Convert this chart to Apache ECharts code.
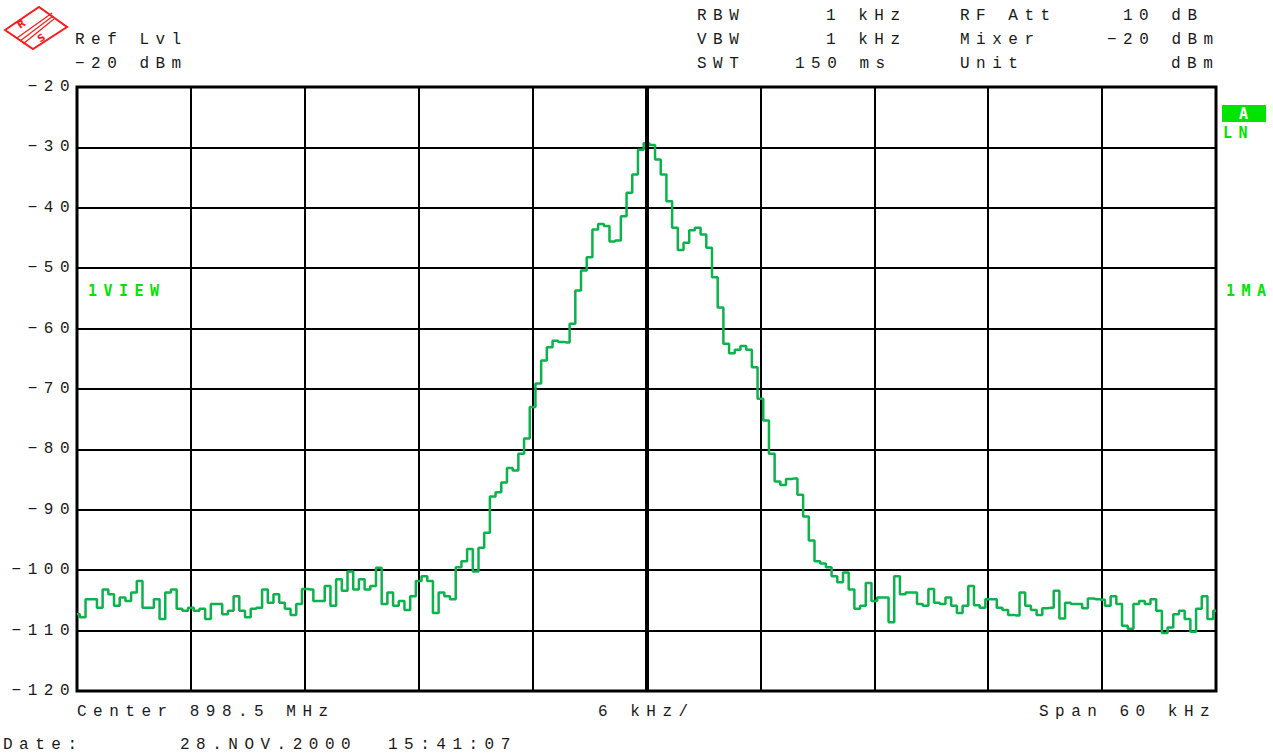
<!DOCTYPE html>
<html>
<head>
<meta charset="utf-8">
<script src="https://cdn.jsdelivr.net/npm/echarts@6/dist/echarts.min.js"></script>
<style>
  html, body { margin: 0; padding: 0; background: #fff; }
  #chart { width: 1273px; height: 755px; }
  /* instrument-style wide character pitch */
  #chart svg text { letter-spacing: 6.5px; }
</style>
</head>
<body>
<div id="chart"></div>
<script>
// Sweep settings
const centerLabel = 'Center 898.5 MHz';
const spanKHz = 60;
const divKHz = 6;
const refLevel = -20;
const bottomLevel = -120;
const levelStep = 10;

// Measured trace (dBm), one value per sweep point from -30 kHz to +30 kHz
const levelsDbm = [
  -107.3, -107.8, -104.8, -104.8, -106.2, -103.2, -104.0, -105.9, -104.5, -105.1,
  -103.7, -101.8, -106.2, -106.2, -104.8, -108.1, -103.7, -103.2, -106.4, -106.7,
  -106.2, -106.7, -106.4, -108.1, -105.6, -105.6, -107.3, -106.7, -104.3, -106.7,
  -107.8, -106.4, -106.2, -103.2, -105.4, -104.0, -105.4, -106.4, -107.4, -105.6,
  -103.1, -103.2, -105.1, -105.1, -102.6, -105.9, -101.5, -103.4, -100.2, -103.2,
  -101.5, -103.2, -102.6, -99.6, -105.6, -103.7, -105.9, -105.1, -106.6, -104.3,
  -101.8, -101.0, -101.8, -107.1, -103.7, -104.3, -104.8, -99.5, -98.5, -96.5,
  -100.2, -96.3, -93.8, -87.8, -87.1, -85.5, -83.1, -83.5, -80.7, -78.2,
  -73.0, -69.1, -65.3, -63.1, -62.0, -62.2, -62.3, -59.2, -53.7, -50.4,
  -48.2, -43.6, -42.7, -43.0, -45.6, -45.4, -41.4, -37.5, -34.5, -30.4,
  -29.3, -29.6, -32.0, -34.5, -38.9, -43.3, -47.0, -45.8, -43.7, -43.3,
  -44.4, -46.6, -51.5, -56.5, -62.5, -64.1, -63.5, -62.9, -63.5, -66.4,
  -71.6, -75.2, -80.7, -85.3, -85.9, -84.9, -84.8, -87.5, -91.1, -95.1,
  -98.5, -98.9, -99.5, -101.0, -102.0, -100.4, -103.2, -106.4, -105.9, -102.1,
  -105.1, -104.5, -104.5, -108.6, -101.0, -104.0, -103.7, -103.7, -105.6, -105.9,
  -103.1, -105.4, -105.6, -104.5, -105.9, -107.1, -105.9, -102.6, -105.8, -106.2,
  -104.8, -104.8, -106.2, -106.6, -107.4, -107.5, -103.7, -105.9, -106.6, -107.4,
  -106.3, -106.2, -103.4, -108.0, -105.4, -105.6, -105.6, -106.3, -104.7, -104.8,
  -104.9, -105.9, -104.3, -105.6, -109.2, -109.7, -105.6, -105.1, -105.6, -104.8,
  -106.7, -110.4, -109.5, -107.3, -106.7, -108.1, -110.2, -106.4, -104.3, -108.1,
  -106.7
];

// Header / footer annotations
const headerLeft = ['Ref Lvl', '\u221220 dBm'];
const settingNames = ['RBW', 'VBW', 'SWT'];
const settingValues = ['1 kHz', '1 kHz', '150 ms'];
const setupNames = ['RF Att', 'Mixer', 'Unit'];
const setupValues = ['10 dB', '\u221220 dBm', 'dBm'];
const footer = [centerLabel, divKHz + ' kHz/', 'Span ' + spanKHz + ' kHz'];
const dateParts = ['Date:', '28.NOV.2000', '15:41:07'];

const nPts = levelsDbm.length;
const startKHz = -spanKHz / 2;
const sweepStep = spanKHz / (nPts - 1);
const traceData = levelsDbm.map((v, i) => [startKHz + i * sweepStep, v]);

const FONT = '16px "Liberation Mono", "DejaVu Sans Mono", monospace';
const INK = '#1a1a1a';
const SIGNAL = '#00e400';
const RS_RED = '#ff1a1a';

function label(text, x, y, extra) {
  return Object.assign({
    type: 'text', x: x, y: y, silent: true,
    style: { text: text, font: FONT, fill: INK, textVerticalAlign: 'middle' }
  }, extra || {});
}

const graphics = [];
// R&S emblem
graphics.push({
  type: 'polygon', silent: true,
  shape: { points: [[5, 30], [39, 7], [67, 27], [33, 49]] },
  style: { fill: '#fff', stroke: RS_RED, lineWidth: 2 }
});
[-3, 0, 3].forEach(d => {
  graphics.push({
    type: 'line', silent: true,
    shape: { x1: 20 + d, y1: 41 + d, x2: 53 + d * 0.3, y2: 16 + d },
    style: { stroke: RS_RED, lineWidth: 1.2 }
  });
});
graphics.push({ type: 'text', x: 24, y: 22, rotation: 0.6, silent: true,
  style: { text: 'R', font: 'bold 10px "DejaVu Sans"', fill: RS_RED, textAlign: 'center', textVerticalAlign: 'middle' } });
graphics.push({ type: 'text', x: 44, y: 36, rotation: 0.6, silent: true,
  style: { text: 'S', font: 'bold 10px "DejaVu Sans"', fill: RS_RED, textAlign: 'center', textVerticalAlign: 'middle' } });

graphics.push(label(headerLeft[0], 75, 40));
graphics.push(label(headerLeft[1], 75, 64));
const rowsY = [16, 40, 64];
const valueX = [826, 826, 795];
const setupValueX = [1123, 1107, 1171];
rowsY.forEach((y, r) => {
  graphics.push(label(settingNames[r], 697, y));
  graphics.push(label(settingValues[r], valueX[r], y));
  graphics.push(label(setupNames[r], 960, y));
  graphics.push(label(setupValues[r], setupValueX[r], y));
});
graphics.push(label(footer[0], 77, 712));
graphics.push(label(footer[1], 598, 712));
graphics.push(label(footer[2], 1039, 712));
graphics.push(label(dateParts[0], 3, 745));
graphics.push(label(dateParts[1], 180, 745));
graphics.push(label(dateParts[2], 388, 745));

// trace annotations in signal green
const GFONT = 'bold 15px "DejaVu Sans Mono", monospace';
graphics.push({ type: 'text', x: 88, y: 291, silent: true,
  style: { text: '1VIEW', font: GFONT, fill: SIGNAL, textVerticalAlign: 'middle' } });
graphics.push({ type: 'rect', silent: true, shape: { x: 1222, y: 105, width: 44, height: 17 },
  style: { fill: SIGNAL } });
graphics.push({ type: 'text', x: 1239, y: 114, silent: true,
  style: { text: 'A', font: GFONT, fill: '#fff', textVerticalAlign: 'middle' } });
graphics.push({ type: 'text', x: 1223, y: 133, silent: true,
  style: { text: 'LN', font: GFONT, fill: SIGNAL, textVerticalAlign: 'middle' } });
graphics.push({ type: 'text', x: 1226, y: 291, silent: true,
  style: { text: '1MA', font: GFONT, fill: SIGNAL, textVerticalAlign: 'middle' } });

const chart = echarts.init(document.getElementById('chart'), null, { renderer: 'svg' });
chart.setOption({
  animation: false,
  backgroundColor: '#fff',
  grid: {
    left: 77, right: 57, top: 87, bottom: 64,
    show: true, borderColor: '#000', borderWidth: 3, backgroundColor: 'transparent',
    containLabel: false, outerBoundsMode: 'none'
  },
  xAxis: {
    type: 'value', min: startKHz, max: -startKHz, interval: divKHz,
    axisLine: { show: false }, axisTick: { show: false }, axisLabel: { show: false },
    splitLine: { show: true, lineStyle: { color: '#000', width: 2 } }
  },
  yAxis: {
    type: 'value', min: bottomLevel, max: refLevel, interval: levelStep,
    axisLine: { show: false }, axisTick: { show: false },
    axisLabel: {
      show: true, margin: 1, color: INK,
      fontFamily: '"Liberation Mono", "DejaVu Sans Mono", monospace', fontSize: 16,
      formatter: v => String(v).replace('-', '\u2212')
    },
    splitLine: { show: true, lineStyle: { color: '#000', width: 2 } }
  },
  series: [{
    type: 'line',
    data: traceData,
    step: 'middle',
    showSymbol: false,
    lineStyle: { color: '#0cb24c', width: 2.5 },
    markLine: {
      silent: true, symbol: 'none', label: { show: false },
      lineStyle: { color: '#000', width: 4, type: 'solid' },
      data: [{ xAxis: 0 }]
    },
    z: 3
  }],
  graphic: graphics
});
</script>
</body>
</html>
